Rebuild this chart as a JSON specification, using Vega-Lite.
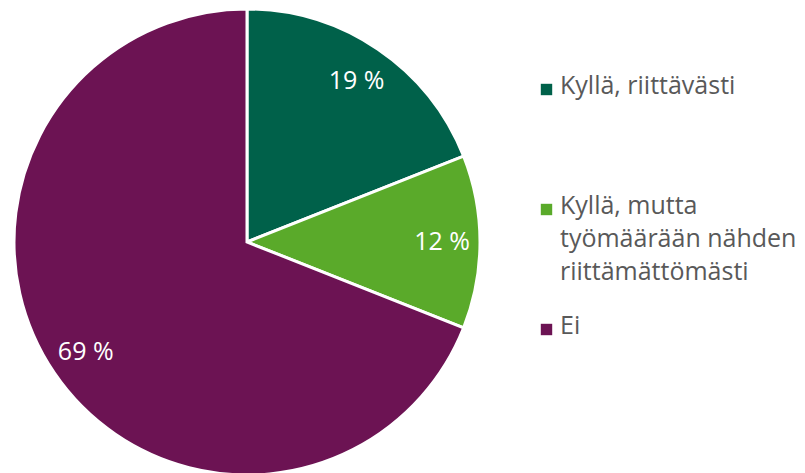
{
  "$schema": "https://vega.github.io/schema/vega-lite/v6.json",
  "autosize": "none",
  "width": 468,
  "height": 468,
  "padding": {"left": 13, "top": 8, "right": 324, "bottom": 0},
  "background": "white",
  "config": {
    "view": {"stroke": null},
    "font": "Open Sans",
    "style": {"guide-label": {"lineHeight": 33, "dy": -16}}
  },
  "data": {"values": [
    {"vastaus": "Kyllä, riittävästi", "osuus": 19, "jarjestys": 1, "label": "19 %"},
    {"vastaus": "Kyllä, mutta työmäärään nähden riittämättömästi", "osuus": 12, "jarjestys": 2, "label": "12 %"},
    {"vastaus": "Ei", "osuus": 69, "jarjestys": 3, "label": "69 %"}
  ]},
  "encoding": {
    "theta": {"field": "osuus", "type": "quantitative", "stack": true},
    "order": {"field": "jarjestys", "type": "quantitative"},
    "color": {
      "field": "vastaus",
      "type": "nominal",
      "sort": ["Kyllä, riittävästi", "Kyllä, mutta työmäärään nähden riittämättömästi", "Ei"],
      "scale": {
        "domain": ["Kyllä, riittävästi", "Kyllä, mutta työmäärään nähden riittämättömästi", "Ei"],
        "range": ["#00614A", "#5AAA2A", "#6C1353"]
      },
      "legend": {
        "title": null,
        "orient": "none",
        "legendX": 521,
        "legendY": 69,
        "symbolType": "square",
        "symbolSize": 130,
        "symbolStrokeWidth": 0,
        "labelFont": "Open Sans",
        "labelFontSize": 25,
        "labelColor": "#595959",
        "labelLimit": 300,
        "labelOffset": 1,
        "labelBaseline": "top",
        "rowPadding": 28,
        "labelExpr": "datum.label == 'Kyllä, mutta työmäärään nähden riittämättömästi' ? ['Kyllä, mutta', 'työmäärään nähden', 'riittämättömästi'] : datum.label == 'Kyllä, riittävästi' ? ['Kyllä, riittävästi', '', ''] : datum.label"
      }
    }
  },
  "layer": [
    {"mark": {"type": "arc", "outerRadius": 233, "stroke": "white", "strokeWidth": 3}},
    {
      "mark": {"type": "text", "radius": 195, "fontSize": 25, "font": "Open Sans"},
      "encoding": {"text": {"field": "label", "type": "nominal"}, "color": {"value": "white"}}
    }
  ]
}
